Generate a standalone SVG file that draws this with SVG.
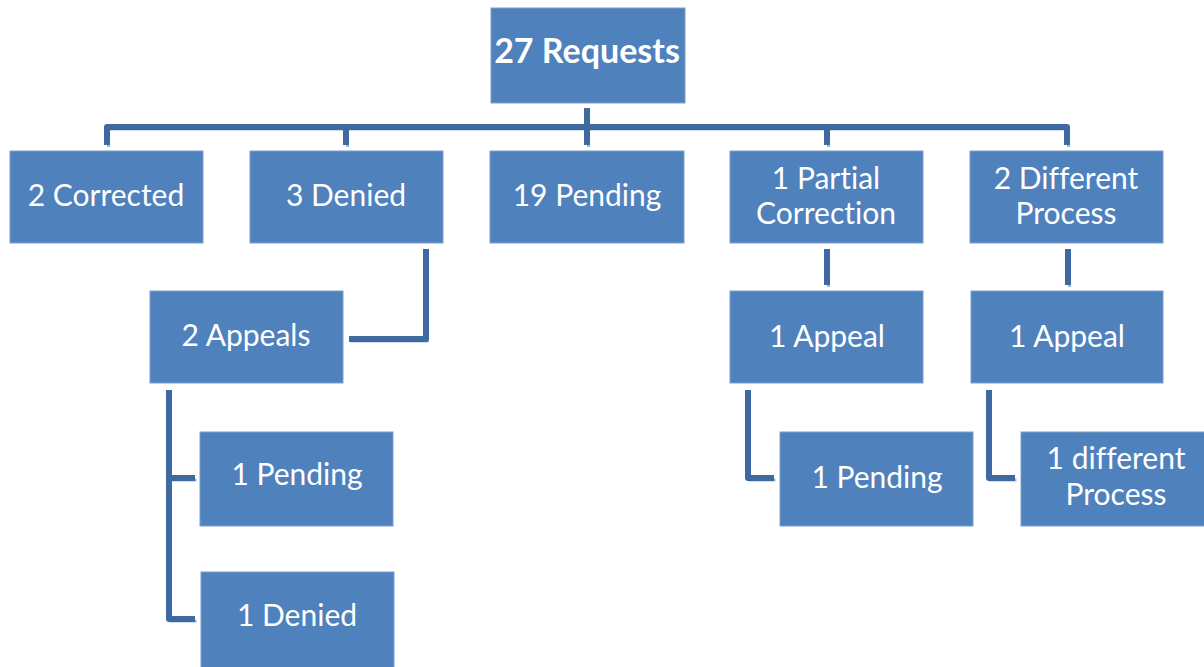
<svg xmlns="http://www.w3.org/2000/svg" width="1204" height="667" viewBox="0 0 1204 667">
<style>
.box{fill:#4f81bd;stroke:#7a9fd0;stroke-width:1}
.t{font-family:Lato,"Open Sans",sans-serif;font-size:30px;fill:#fff;text-anchor:middle;font-variant-ligatures:none}
.b{font-weight:bold;font-size:34px}
.c{fill:none;stroke:#3f6aa1;stroke-width:6;stroke-linejoin:round}
.s{fill:none;stroke:#9fb6d6;stroke-width:3;stroke-linejoin:round}
</style>
<rect width="1204" height="667" fill="#fff"/>
<g id="connectors">
<g transform="translate(1.5,2)" class="s">
<path d="M107,145 V127 H1067 V145"/><path d="M346,127 V145"/><path d="M587,108 V145"/><path d="M827,127 V145"/>
<path d="M426,249 V339 H349"/><path d="M827,249 V285"/><path d="M1068,249 V285"/>
<path d="M169,390 V619 H195"/><path d="M169,478 H195"/>
<path d="M748,390 V478 H774"/><path d="M989,390 V478 H1015"/>
</g>
<g class="c">
<path d="M107,145 V127 H1067 V145"/><path d="M346,127 V145"/><path d="M587,108 V145"/><path d="M827,127 V145"/>
<path d="M426,249 V339 H349"/><path d="M827,249 V285"/><path d="M1068,249 V285"/>
<path d="M169,390 V619 H195"/><path d="M169,478 H195"/>
<path d="M748,390 V478 H774"/><path d="M989,390 V478 H1015"/>
</g>
</g>
<g id="root"><rect class="box" x="491" y="8" width="194" height="95"/><text class="t b" x="587" y="63">27 Requests</text></g>
<g id="corrected"><rect class="box" x="10" y="151" width="193" height="92"/><text class="t" x="106" y="206">2 Corrected</text></g>
<g id="denied"><rect class="box" x="250" y="151" width="193" height="92"/><text class="t" x="346" y="206">3 Denied</text></g>
<g id="pending"><rect class="box" x="490" y="151" width="194" height="92"/><text class="t" x="587" y="206">19 Pending</text></g>
<g id="partial"><rect class="box" x="730" y="151" width="193" height="92"/><text class="t" x="826" y="189">1 Partial</text><text class="t" x="826" y="224">Correction</text></g>
<g id="different"><rect class="box" x="970" y="151" width="193" height="92"/><text class="t" x="1066" y="189">2 Different</text><text class="t" x="1066" y="224">Process</text></g>
<g id="appeals2"><rect class="box" x="150" y="291" width="193" height="92"/><text class="t" x="246" y="346">2 Appeals</text></g>
<g id="appeal1a"><rect class="box" x="730" y="291" width="193" height="92"/><text class="t" x="827" y="347">1 Appeal</text></g>
<g id="appeal1b"><rect class="box" x="971" y="291" width="192" height="92"/><text class="t" x="1067" y="347">1 Appeal</text></g>
<g id="pendingL"><rect class="box" x="200" y="432" width="193" height="94"/><text class="t" x="297" y="485">1 Pending</text></g>
<g id="deniedL"><rect class="box" x="201" y="572" width="193" height="96"/><text class="t" x="297" y="626">1 Denied</text></g>
<g id="pendingR"><rect class="box" x="780" y="432" width="193" height="94"/><text class="t" x="877" y="488">1 Pending</text></g>
<g id="diffProc"><rect class="box" x="1021" y="432" width="184" height="94"/><text class="t" x="1116" y="469">1 different</text><text class="t" x="1116" y="505">Process</text></g>
</svg>
